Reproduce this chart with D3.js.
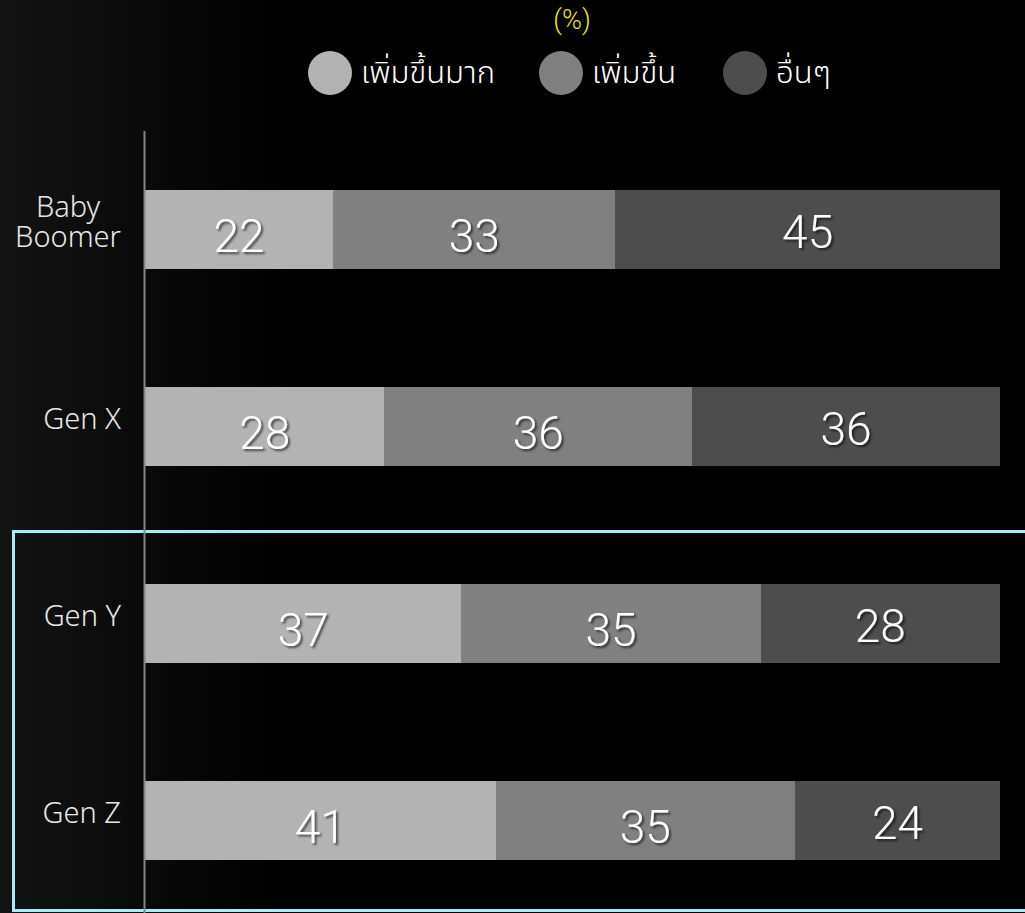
<!DOCTYPE html>
<html><head><meta charset="utf-8">
<script src="https://cdn.jsdelivr.net/npm/d3@7"></script>
<style>html,body{margin:0;padding:0;background:#000;overflow:hidden}</style>
</head><body>
<script>
const categories = ["Baby Boomer", "Gen X", "Gen Y", "Gen Z"];
const seriesNames = ["เพิ่มขึ้นมาก", "เพิ่มขึ้น", "อื่นๆ"];
const seriesColors = ["#b3b3b3", "#808080", "#4d4d4d"];
const valMuch = [22, 28, 37, 41];
const valUp = [33, 36, 35, 35];
const valOther = [45, 36, 28, 24];
const unitLabel = "(%)";

const W = 1025, H = 913;
const FONT = "'Noto Sans Thai','Noto Sans',sans-serif";
const NUMFONT = "Roboto,'Noto Sans',sans-serif";
const svg = d3.select("body").append("svg").attr("width", W).attr("height", H);
const defs = svg.append("defs");
const grad = defs.append("linearGradient").attr("id", "bg").attr("x1", "0").attr("x2", "1").attr("y1", "0").attr("y2", "0");
grad.append("stop").attr("offset", "0").attr("stop-color", "#131313");
grad.append("stop").attr("offset", "0.28").attr("stop-color", "#000");
grad.append("stop").attr("offset", "1").attr("stop-color", "#000");
const f = defs.append("filter").attr("id", "sh").attr("x", "-20%").attr("y", "-20%").attr("width", "150%").attr("height", "150%");
f.append("feDropShadow").attr("dx", 2).attr("dy", 2).attr("stdDeviation", 1.2).attr("flood-color", "#000").attr("flood-opacity", 0.6);

svg.append("rect").attr("width", W).attr("height", H).attr("fill", "url(#bg)");

const x = d3.scaleLinear().domain([0, 100]).range([145, 1000]);
const y = d3.scaleBand().domain(categories).range([131, 919]).paddingInner(0.6).paddingOuter(0.3);

// highlight box
svg.append("rect").attr("x", 13.5).attr("y", 531.5).attr("width", 1030).attr("height", 379)
  .attr("fill", "none").attr("stroke", "#a6eef5").attr("stroke-width", 3);

const data = categories.map((c, i) => ({cat: c, vals: [valMuch[i], valUp[i], valOther[i]]}));
const stack = d3.stack().keys([0, 1, 2]).value((d, k) => d.vals[k])(data);

const dy = [6, 6, 2];
stack.forEach((layer, k) => {
  const g = svg.append("g");
  g.selectAll("rect").data(layer).join("rect")
    .attr("x", d => Math.round(x(d[0]))).attr("width", d => Math.round(x(d[1])) - Math.round(x(d[0])))
    .attr("y", d => Math.round(y(d.data.cat))).attr("height", Math.round(y.bandwidth()))
    .attr("fill", seriesColors[k]);
  g.selectAll("text").data(layer).join("text")
    .attr("x", d => (x(d[0]) + x(d[1])) / 2)
    .attr("y", d => y(d.data.cat) + y.bandwidth() / 2 + dy[k])
    .attr("text-anchor", "middle").attr("dominant-baseline", "central")
    .attr("font-family", NUMFONT).attr("font-weight", 300).attr("font-size", 46).attr("fill", "#fff")
    .attr("filter", "url(#sh)")
    .text(d => d[1] - d[0]);
});

// axis line
svg.append("line").attr("x1", 144.5).attr("x2", 144.5).attr("y1", 131).attr("y2", H)
  .attr("stroke", "#858585").attr("stroke-width", 2);

// category labels
const labG = svg.append("g");
categories.forEach(c => {
  const lines = c === "Baby Boomer" ? c.split(" ") : [c];
  const t = labG.append("text").attr("font-family", FONT).attr("font-weight", 300).attr("font-size", 29).attr("fill", "#e8e8e8")
    .attr("text-anchor", "middle");
  const lh = 30;
  const cy = y(c) + y.bandwidth() / 2 - 7;
  lines.forEach((ln, i) => {
    t.append("tspan").attr("y", cy + (i - (lines.length - 1) / 2) * lh).attr("dominant-baseline", "central").text(ln);
  });
  let maxW = 0;
  t.selectAll("tspan").each(function(){ maxW = Math.max(maxW, this.getComputedTextLength()); });
  t.selectAll("tspan").attr("x", 121 - maxW / 2);
});

// unit label
svg.append("text").attr("x", 572).attr("y", 20).attr("text-anchor", "middle").attr("dominant-baseline", "central")
  .attr("font-family", NUMFONT).attr("font-weight", 300).attr("font-size", 27).attr("fill", "#f2ea00").text(unitLabel);

// legend
const legX = [330, 561, 745];
seriesNames.forEach((n, i) => {
  svg.append("circle").attr("cx", legX[i]).attr("cy", 73).attr("r", 22).attr("fill", seriesColors[i]);
  svg.append("text").attr("x", legX[i] + 31).attr("y", 73).attr("dominant-baseline", "central")
    .attr("font-family", FONT).attr("font-weight", 300).attr("font-size", 31).attr("fill", "#fff").text(n);
});
</script>
</body></html>
